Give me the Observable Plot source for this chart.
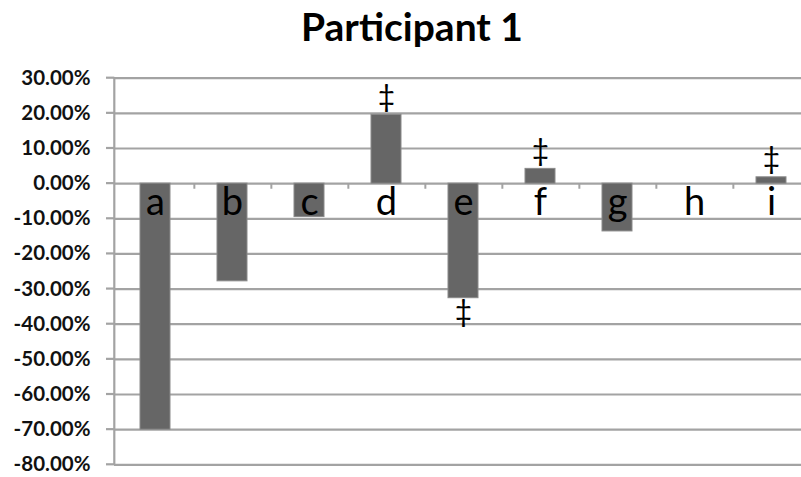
<!DOCTYPE html>
<html>
<head>
<meta charset="utf-8">
<script src="https://cdn.jsdelivr.net/npm/d3@7"></script>
<script src="https://cdn.jsdelivr.net/npm/@observablehq/plot@0.6"></script>
<style>
  html, body { margin: 0; padding: 0; background: #fff; overflow: hidden; }
  #wrap { position: relative; width: 801px; height: 477px; }
  #title { position: absolute; left: 0; top: 0; width: 824px; text-align: center;
           font-family: Lato, "Open Sans", sans-serif; font-weight: 700; font-size: 39px;
           line-height: 1; padding-top: 7px; color: #000; }
  #chart { position: absolute; left: 0; top: 60px; }
</style>
</head>
<body>
<div id="wrap">
  <div id="title">Participant 1</div>
  <div id="chart"></div>
</div>
<script>
const categories = ["a", "b", "c", "d", "e", "f", "g", "h", "i"];
const values = [-0.700, -0.278, -0.095, 0.196, -0.326, 0.042, -0.136, 0.0, 0.018];
const markerCategories = ["d", "e", "f", "i"];
const markerSides = ["above", "below", "above", "above"];
const yTicks = [0.3, 0.2, 0.1, 0, -0.1, -0.2, -0.3, -0.4, -0.5, -0.6, -0.7, -0.8];

const bars = categories.map((c, i) => ({category: c, value: values[i]}));
const markers = markerCategories.map((c, i) => ({
  category: c, side: markerSides[i], value: values[categories.indexOf(c)]
}));

const W = 801, H = 417;
const fmt = d => (d * 100).toFixed(2) + "%";
const font = "Lato, 'Open Sans', sans-serif";

const chart = Plot.plot({
  width: W,
  height: H,
  marginLeft: 114,
  marginRight: 0,
  marginTop: 17.7,
  marginBottom: 12.7,
  style: {background: "white", fontFamily: font},
  x: {domain: categories, range: [113.5, 812.8], paddingInner: 0.614, paddingOuter: 0.307, axis: null},
  y: {domain: [-0.8, 0.3], axis: null},
  marks: [
    Plot.ruleY(yTicks, {stroke: "#a3a3a3", strokeWidth: 2.2}),
    Plot.ruleX(categories, {x: d => d, y1: 0, y2: -0.016, dx: 77.7 / 2, stroke: "#a3a3a3", strokeWidth: 2}),
    Plot.barY(bars, {x: "category", y: "value", fill: "#666666", stroke: "#8a8a8a", strokeWidth: 1}),
    Plot.text(markers.filter(m => m.side === "above"), {x: "category", y: "value", text: () => "‡",
      lineAnchor: "bottom", dy: -8, fontSize: 30, fill: "#000"}),
    Plot.text(markers.filter(m => m.side === "below"), {x: "category", y: "value", text: () => "‡",
      lineAnchor: "top", dy: 2, fontSize: 30, fill: "#000"}),
    Plot.text(categories, {x: d => d, y: () => 0, text: d => d, lineAnchor: "top", dy: 4,
      fontSize: 38, fill: "#000", fontFamily: font}),
    Plot.text(yTicks, {y: d => d, text: fmt, frameAnchor: "left", textAnchor: "end", dx: -24,
      fontSize: 20.5, fontWeight: 700, fill: "#111", fontFamily: font})
  ]
});

// y axis line and left tick marks, positioned through the plot's y scale
const sy = chart.scale("y");
const svg = d3.select(chart);
svg.append("line")
  .attr("x1", 114.3).attr("x2", 114.3)
  .attr("y1", sy.apply(0.3)).attr("y2", sy.apply(-0.8))
  .attr("stroke", "#a3a3a3").attr("stroke-width", 2.2);
yTicks.forEach(t => {
  svg.append("line")
    .attr("x1", 106).attr("x2", 114.3)
    .attr("y1", sy.apply(t)).attr("y2", sy.apply(t))
    .attr("stroke", "#a3a3a3").attr("stroke-width", 2.2);
});

document.getElementById("chart").appendChild(chart);
</script>
</body>
</html>
